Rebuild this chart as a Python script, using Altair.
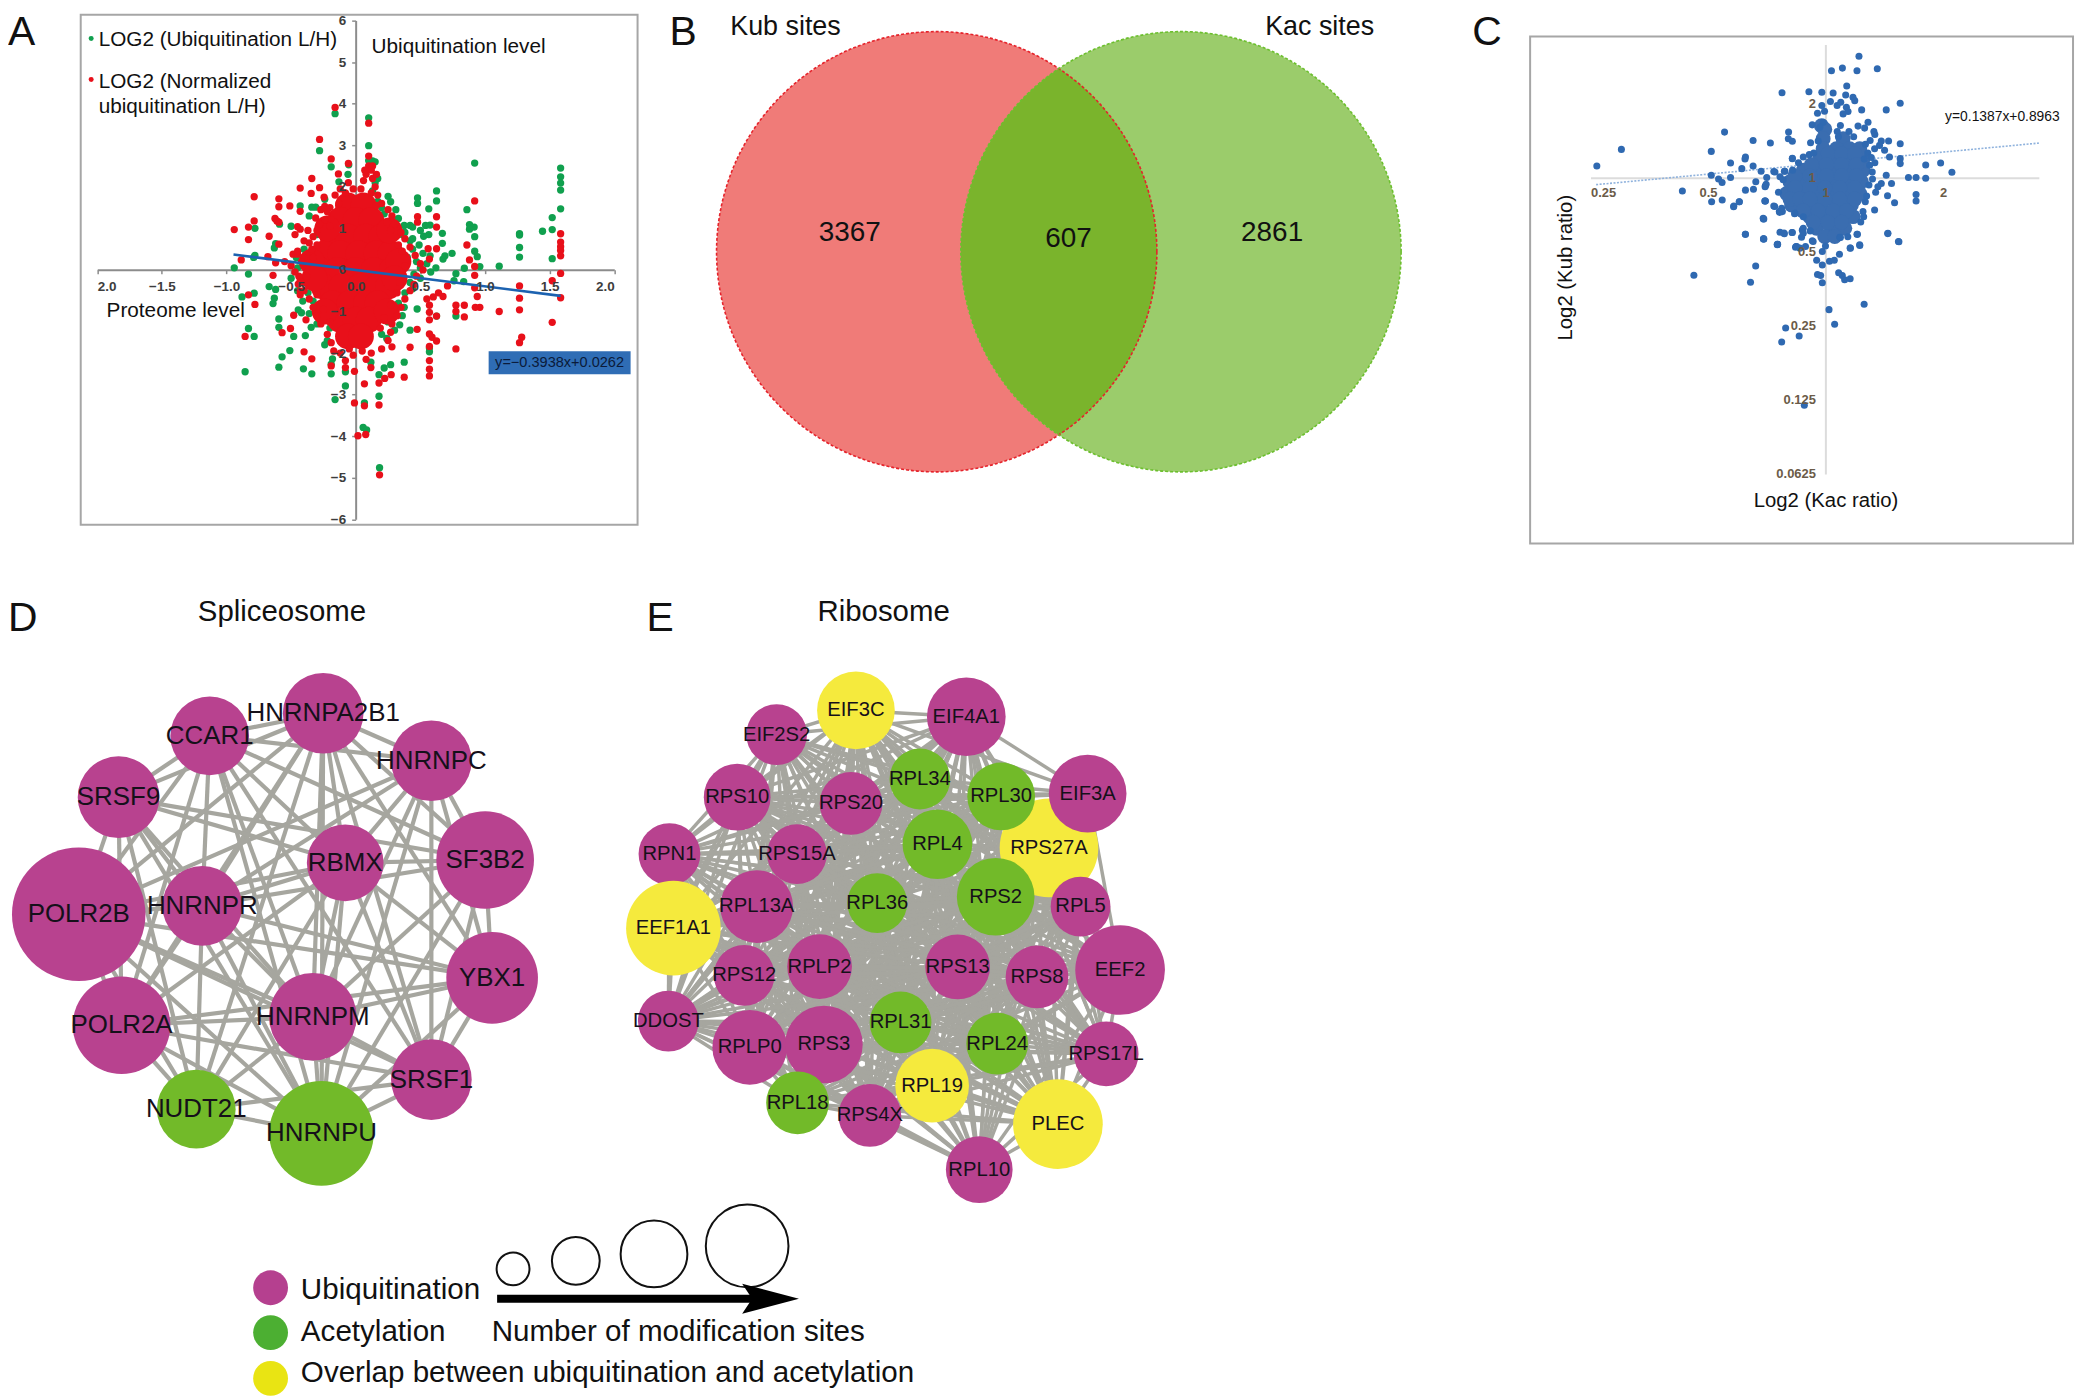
import itertools
import altair as alt
import pandas as pd

# ---------- Panel A values (proteome level, ubiquitination level) ----------
a_green = [(-.16,3.76),(.10,3.66),(-.28,2.87),(.10,2.99),(-.054,2.53),(-.19,2.48),(-.13,2.12),(.10,2.63),(.13,2.62),(.15,2.6),(.15,2.1),(.13,1.9),
 (-.50,1.05),(-.43,1.54),(-.34,1.51),(-.31,1.51),(-.78,1.0),(-.59,1.1),(-.62,.63),(-.63,.53),(-.78,.35),(-.79,.3),(-.94,.05),(-.83,-.1),
 (-.856,-2.45),(-.786,-1.6),(-.83,-1.41),(-.88,-.65),(-.786,-.56),(-.67,-.4),(-.62,-.47),(-.64,-.81),(-.63,-.68),(-.595,-1.18),(-.595,-1.38),
 (-.57,-2.09),(-.595,-2.34),(-.51,-1.94),(-.48,-1.6),(-.405,-2.38),(-.34,-2.5),(-.19,-2.5),(-.08,-2.45),(-.445,-.96),(-.42,-1.03),(-.39,-1.58),
 (-.345,-1.38),(-.28,-1.12),(-.24,-1.8),(-.18,-2.14),(-.19,-2.27),(-.08,-2.79),(-.16,-3.12),(.067,-3.2),(.057,-3.79),(.084,-3.85),(.184,-4.76),
 (.18,-3.04),(.18,-2.52),(.22,-2.36),(.27,-2.28),(.375,-2.22),(.117,-2.22),(.42,-1.45),(.34,-1.32),(.92,2.57),(1.585,2.45),(1.585,2.24),(1.585,2.09),
 (1.585,1.92),(1.585,1.47),(1.52,1.26),(1.445,.93),(1.52,.97),(1.52,.27),(1.267,.87),(1.267,.84),(1.267,.54),(1.267,.31),(1.11,.09),(.96,.08),
 (.92,.45),(.94,.32),(.86,1.45),(.88,1.09),(.916,1.03),(.88,.98),(.92,.8),(.625,1.9),(.625,1.66),(.478,1.73),(.478,1.6),(.565,1.47),(.25,1.77),
 (.27,1.64),(.31,1.45),(.33,1.24),(.375,1.07),(.42,1.07),(.44,1.03),(.54,1.07),(.575,1.08),(.67,.88),(.565,.85),(.525,.81),(.67,.64),(.575,.34),
 (.69,.34),(.745,.4),(.675,.26),(.84,.04),(.775,-.09),(.76,-.26),(.835,-.28),(.775,-1.11),(.625,-1.11),(.475,-.94),(.375,-.9),(.57,-1.88),(.57,-1.97),
 (.49,.6),(.52,.4),(.55,.15),(.58,-.05),(.62,.05),(.5,-.2),(.44,-.45),(.36,-1.1),(.3,-1.45),(.24,-1.65),(.3,1.2),(.38,.9),(.44,.75),(.5,.95),
 (-.4,.5),(-.46,.3),(-.45,.05),(-.5,-.2),(-.45,-.5),(-.41,-.75),(-.36,-1.05),(-.3,-1.3),(-.22,-1.7),(-.36,1.3),(-.24,1.7),(-.06,2.3),(.17,2.2),
 (.4,.3),(.44,.5),(.47,.2),(.42,.7),(.36,.85),(.33,1.0),(.5,.05),(.45,-.1),(.42,-.3),(.38,-.55),(.33,-.8),(.3,-1.0),(.25,-1.25),(.2,-1.55),
 (-.33,-.75),(-.37,-.55),(-.3,-.95),(-.25,-1.15),(-.2,-1.4),(-.3,.85),(-.27,1.05),(.22,1.35),(.2,1.5),(.17,1.65)]
a_red = [(-.16,3.91),(.10,3.53),(-.28,3.14),(.10,2.74),(-.19,2.67),(-.057,2.56),(-.134,2.31),(-.34,2.2),(-.43,1.97),(-.345,1.84),(-.28,1.98),(-.057,2.1),
 (-.786,1.76),(-.595,1.71),(-.595,1.52),(-.51,1.54),(-.43,1.41),(-.245,1.75),(-.24,1.53),(-.786,1.18),(-.83,1.03),(-.94,.97),(-.83,.73),(-.67,.81),
 (-.625,1.24),(-.61,1.18),(-.595,1.15),(-.45,1.04),(-.43,.98),(-.47,.85),(-.595,.62),(-.62,.17),(-.886,.24),(-.68,.32),(-.485,.38),(-.45,.38),
 (-.445,-.34),(-.64,-.13),(-.43,-.26),(-.43,-.51),(-.83,-.6),(-.78,-.83),(-.856,-1.6),(-.57,-1.51),(-.505,-1.41),(-.48,-1.09),(-.385,-1.2),(-.43,-.6),
 (-.4,-1.97),(-.34,-2.14),(-.19,-2.31),(-.08,-2.35),(-.08,-2.18),(-.01,-2.44),(.067,-2.74),(.117,-2.35),(.18,-2.72),(.18,-3.25),(-.01,-3.2),
 (.067,-3.27),(.017,-3.99),(.077,-3.96),(.184,-4.93),(.224,-2.61),(.274,-2.52),(.375,-2.58),(.42,-1.86),(.475,-1.43),(.92,1.66),(1.585,.87),(1.585,.67),
 (1.585,.56),(1.585,.47),(1.585,.34),(1.585,-.085),(1.585,-.67),(1.52,-.26),(1.52,-1.26),(1.267,-.385),(1.267,-.68),(1.267,-.96),(1.284,-1.62),
 (1.267,-1.75),(1.11,-1.0),(.96,-.9),(.925,-.9),(.94,-.64),(.92,-.43),(.92,-.13),(.92,.085),(.86,.6),(.88,.24),(.84,-.85),(.84,-1.13),(.775,-.85),
 (.775,-1.0),(.775,-1.9),(.71,-.385),(.675,-.64),(.625,1.28),(.625,1.03),(.478,1.28),(.478,1.15),(.56,.51),(.625,.51),(.57,.26),(.57,-.85),(.57,-1.02),
 (.57,-1.2),(.625,-1.11),(.57,-1.54),(.59,-1.62),(.625,-1.71),(.57,-1.84),(.57,-2.18),(.57,-2.39),(.57,-2.55),(.6,-.65),(.64,-.55),(.55,-.7),
 (.10,2.5),(.12,2.4),(.08,2.3),(.13,2.2),(.06,2.15),(.15,2.0),(.04,1.95),(-.02,1.95),(-.08,1.85),(-.12,1.95),(-.16,1.8),(-.13,1.6),(-.2,1.5),(-.22,1.4),
 (-.24,1.2),(-.28,1.1),(-.3,.95),(-.33,.8),(-.36,.65),(-.34,.5),(-.4,.3),(-.42,.2),(.17,1.8),(.2,1.6),(.25,1.45),(.28,1.3),(.3,1.1),(.35,.9),(.38,.75),
 (.42,.55),(.46,.35),(.5,.15),(.52,0),(.47,-.15),(.45,-.35),(.42,-.5),(.38,-.7),(.35,-.9),(.32,-1.1),(.28,-1.3),(.27,-1.5),(.25,-1.7),(.28,-1.85),
 (.2,-1.9),(.12,-2.0),(.08,-2.15),(.05,-1.95),(-.02,-2.05),(-.05,-1.9),(-.12,-2.0),(-.17,-1.95),(-.19,-1.75),(-.22,-1.55),(-.27,-1.3),(-.3,-1.1),
 (-.33,-.9),(-.36,-.7),(-.4,-.5),(-.42,-.3),(-.44,-.15),(-.5,.1),(-.55,.2),(-.45,.45),(-.4,.7),(-.37,.95),(-.31,1.25),(-.27,1.45),(.16,2.3),(.13,2.5),(.07,2.4),
 (-.47,-.05),(-.38,.12),(-.33,.3),(-.38,-.15),(.38,.1),(.36,.45),(.33,.6),(.27,.95),(.34,-.3),(.32,-.55),(.27,-.85),(.22,-1.15),(.19,-1.4),(-.2,-1.25),(-.25,-.95),
 (-.3,-.6),(-.3,.6),(-.2,1.05),(.24,1.15),(.12,1.85),(.16,1.55)]
a_red_dense = [(-.06,1.55),(.06,1.55),(-.12,1.2),(0,1.2),(.12,1.2),(-.18,.8),(-.06,.8),(.08,.8),(.2,.8),(-.24,.4),(-.12,.4),(.02,.4),(.16,.4),(.27,.4),
 (-.28,0),(-.14,0),(0,0),(.14,0),(.28,0),(-.25,-.4),(-.11,-.4),(.03,-.4),(.17,-.4),(.25,-.4),(-.18,-.8),(-.05,-.8),(.08,-.8),(.17,-.8),(-.12,-1.2),(0,-1.2),(.1,-1.2),(-.06,-1.6),(.04,-1.6),
 (-.22,1.0),(.26,.95),(-.24,-1.0),(.24,-1.0),(.33,.2),(-.34,.2),(.3,-.2),(-.32,-.2)]
a_trend = [(-.946,.37),(1.585,-.625)]
a_x_ticks = [-2,-1.5,-1,-.5,0,.5,1,1.5,2]
a_y_ticks = [-6,-5,-4,-3,-2,-1,0,1,2,3,4,5,6]

# ---------- Panel C values (log2 Kac ratio, log2 Kub ratio) ----------
c_points = [(-1.946,.157),(-1.737,.38),(-1.218,-.183),(-.972,.353),(-.859,.613),(-.972,.03),(-.91,-.02),(-.88,-.067),(-.969,-.327),(-.879,-.304),
 (-.782,-.394),(-.734,-.327),(-.808,.197),(-.808,0),(-.681,.277),(-.685,.25),(-.712,.12),(-.616,.5),(-.616,.157),(-.681,-.17),(-.613,-.157),(-.548,.085),(-.593,-.058),
 (-.5,0),(-.514,-.125),(-.505,-.09),(-.514,-.318),(-.469,.465),(-.43,.076),(-.35,.085),(-.387,.01),(-.37,1.145),(-.314,.613),(-.316,.523),(-.282,.49),(-.282,.26),
 (-.525,-.56),(-.681,-.765),(-.525,-.828),(-.387,-.738),(-.35,-.76),(-.282,-.743),(-.407,-.9),(-.432,-.39),(-.246,-.93),(-.263,-.488),(-.367,-.46),(-.39,-.47),
 (-1.12,-1.318),(-.638,-1.414),(-.594,-1.194),(-.682,-.767),(-.526,-.83),(-.41,-.906),(-.353,-.748),(-.285,-.743),(-.255,-.94),(-.204,-.805),(-.197,-.71),(-.17,-.93),
 (-.112,-.853),(0,-.925),(-.027,-.997),(-.075,-1.117),(-.027,-1.18),(.034,-1.13),(.075,-1.117),(.119,-1.035),(.122,-.805),(.21,-.95),(.292,-.916),(.272,-.767),
 (.53,-.757),(.625,-.868),(-.068,-1.31),(-.041,-1.323),(-.027,-1.419),(.112,-1.285),(.143,-1.323),(.163,-1.38),(.21,-1.366),(.329,-1.711),(.03,-1.783),(.078,-1.98),
 (-.339,-2.03),(-.224,-2.138),(-.373,-2.22),(-.18,-3.073),(-.53,-.551),(-.516,-.316),(-.78,-.384),(-.733,-.326),
 (.285,1.638),(.144,1.477),(.051,1.441),(.268,1.441),(.441,1.468),(.181,1.235),(-.141,1.159),(-.031,1.15),(.065,1.14),(.172,1.114),(.234,1.083),(.249,1.038),
 (.042,1.025),(-.031,.971),(.13,1.016),(.099,.971),(.178,.949),(.192,.89),(.636,1.002),(.517,.913),(.308,.913),(-.068,.868),(-.008,.895),(.15,.859),(-.113,.711),
 (-.02,.747),(-.048,.68),(.362,.747),(.333,.667),(.277,.694),(.412,.622),(.127,.702),(-.127,.47),(-.062,.492),(.475,.492),(.537,.492),(.636,.456),(.46,.434),
 (.418,.389),(.503,.367),(.545,.277),(.636,.255),(.636,.188),(.376,.166),(.398,.076),(-.282,.255),(-.189,.277),(-.138,.309),(.517,.031),(.475,-.08),(.446,-.125),
 (.427,-.2),(.562,-.08),(.528,-.246),(.706,0),(.771,0),(.853,-.01),(.853,.17),(.98,.197),(1.076,.072),(.771,-.228),(.771,-.318),(.588,-.34),(.418,-.438),(.339,-.327),
 (.319,-.46),(.325,-.528),(.268,-.765),(.531,-.752),(.621,-.864),(.291,-.908),(.212,-.953),(.127,-.81),(-.528,-.559),(-.528,-.828),(-.41,-.9),(-.511,-.318),
 (-.511,-.112),(-.44,.08),(-.345,.085),(-.44,-.385),(-.393,-.46),(-.373,-.416),(-.26,-.483),(-.189,-.528),(-.189,-.685),(-.189,-.752),(-.25,-.93),(-.218,-.953),
 (-.105,-.864),(.42,.58),(.38,.5),(.34,.45),(.2,.62),(.1,.62),(.33,.25),(.42,.2),(.11,.55),(.24,.55),(.36,.33),(.39,.27),(-.1,.33),(-.23,.2),(-.28,.1),(-.36,-.03),
 (-.4,-.2),(.37,-.1),(.4,-.02),(.35,-.25),(.3,-.6),(.19,-.8),(-.13,-.72)]
c_dense = [(-.034,.70),(-.006,.65),(-.02,.523),(.15,.523),(-.02,.389),(.093,.389),(.206,.389),(.291,.389),(-.048,.255),(.065,.255),(.192,.255),(.319,.255),
 (-.189,.098),(-.048,.098),(.079,.098),(.206,.098),(.319,.098),(-.302,-.058),(-.189,-.058),(-.062,-.058),(.065,-.058),(.192,-.058),(.305,-.058),
 (-.33,-.215),(-.203,-.215),(-.076,-.215),(.051,-.215),(.178,-.215),(.291,-.215),(-.288,-.371),(-.161,-.371),(-.034,-.371),(.093,-.371),(.22,-.371),
 (-.133,-.528),(-.006,-.528),(.121,-.528),(.234,-.528),(-.076,-.685),(.051,-.685),(.164,-.685),(-.006,-.796),(.079,-.796),
 (.023,.322),(.136,.322),(.249,.322),(-.119,.174),(.009,.174),(.136,.174),(.263,.174),(-.26,.022),(-.133,.022),(.009,.022),(.136,.022),(.263,.022),
 (-.26,-.139),(-.133,-.139),(-.006,-.139),(.121,-.139),(.249,-.139),(-.302,-.291),(-.218,-.291),(-.133,-.291),(-.006,-.291),(.121,-.291),(.249,-.291),
 (-.19,-.452),(-.062,-.452),(.065,-.452),(.178,-.452),(-.105,-.604),(.023,-.604),(.136,-.604)]
c_trend = [(-1.952,-.096),(1.816,.465)]
c_x_ticks = [-2,-1,0,1]
c_y_ticks = [-4,-3,-2,-1,0,1]

# ---------- Panel B values ----------
venn_labels = ["3367","607","2861"]

# ---------- Panel D network ----------
d_names = ["HNRNPA2B1","CCAR1","HNRNPC","SRSF9","RBMX","SF3B2","POLR2B","HNRNPR","YBX1","POLR2A","HNRNPM","SRSF1","NUDT21","HNRNPU"]
d_kind  = ["ub","ub","ub","ub","ub","ub","ub","ub","ub","ub","ub","ub","ac","ac"]
d_sites = [81,79,81,82,77,98,134,80,92,98,88,81,79,105]
d_x = [324.4,210.5,433,119,346.5,487,79,203,494,122,314,433,197,322.7]
d_y = [713.3,736,761,797.5,863.4,860.6,915,906.6,979,1026.5,1018,1081,1110.7,1135]
d_missing = [("CCAR1","NUDT21"),("HNRNPC","NUDT21"),("SRSF9","HNRNPC"),("SF3B2","POLR2A"),("YBX1","NUDT21"),("SRSF1","SRSF9"),("POLR2B","SF3B2"),
 ("SF3B2","NUDT21"),("HNRNPR","SRSF1"),("CCAR1","YBX1"),("SRSF9","YBX1"),("POLR2A","HNRNPC")]

# ---------- Panel E network ----------
e_names = ["RPS27A","EIF3C","EIF4A1","EIF2S2","RPS10","RPS20","RPL34","RPL30","EIF3A","RPN1","RPS15A","RPL4","RPL36","RPS2","RPL5","RPL13A","EEF1A1",
 "RPS12","RPLP2","RPS13","RPS8","EEF2","DDOST","RPLP0","RPS3","RPL31","RPL24","RPS17L","RPL18","RPL19","RPS4X","PLEC","RPL10"]
e_kind = ["ov","ov","ub","ub","ub","ub","ac","ac","ub","ub","ub","ac","ac","ac","ub","ub","ov","ub","ub","ub","ub","ub","ub","ub","ub","ac","ac","ub","ac","ov","ub","ov","ub"]
e_sites = [99,78,79,61,67,63,61,68,78,62,60,70,60,78,60,73,95,61,65,65,63,90,61,75,78,62,62,65,63,74,63,90,67]
e_x = [1053,859.2,970,779.6,740,854.3,923.4,1005,1091.8,672,800,941,880.6,999.5,1084.7,759.6,676,747,822.7,961.3,1041,1124.4,670.9,752.6,827,904,1001,1110.4,800.6,935.7,873.2,1062,983]
e_y = [848.4,710.5,716.8,734.7,797.5,803.8,779.3,796.8,794,854.7,854.7,844.8,903.8,897.5,907.3,907.3,929,976.4,967.6,968,978,971,1022.3,1048.6,1045.8,1023.7,1045,1055.3,1104.4,1087.2,1117,1125.8,1171.4]
e_missing = [("RPN1","EIF3A"),("RPN1","EEF2"),("RPN1","PLEC"),("RPN1","RPS17L"),("RPN1","RPL10"),("DDOST","EIF3A"),("DDOST","EIF4A1"),("DDOST","EEF2"),
 ("DDOST","RPS17L"),("DDOST","PLEC"),("EIF2S2","RPL10"),("EIF2S2","PLEC"),("EIF2S2","RPS17L"),("EIF2S2","EEF2"),("EIF2S2","EIF3A"),("RPL10","EIF3A"),
 ("RPL10","EIF3C"),("RPL10","EIF4A1"),("RPL10","RPS10"),("RPL10","RPL18"),("RPS17L","EIF3A"),("EEF1A1","RPL18"),("EEF1A1","RPS4X"),("RPS10","RPL18"),("RPS10","RPS4X")]

# ---------- Size legend ----------
size_key_sites = [33,48,67,83]
size_key_x = [515,578,656.5,750]
size_key_y = [1271,1263,1256,1248]

# ---------- Colours ----------
PURPLE, GREEN, YELLOW = "#B8428F", "#72BA29", "#F5EA3D"
KIND = alt.Scale(domain=["ub","ac","ov"], range=[PURPLE, GREEN, YELLOW])
FONT = "Liberation Sans"

# ---------- Page coordinate scales (picture pixels; the page margin is 8) ----------
W, H, M = 2080, 1392, 8
PX = alt.Scale(domain=[M, M + W], range=[0, W])
PY = alt.Scale(domain=[M, M + H], range=[0, H])
def pxy(x="x", y="y"):
    return dict(x=alt.X(f"{x}:Q", scale=PX, axis=None), y=alt.Y(f"{y}:Q", scale=PY, axis=None))

def note(text, x, y, size, align="left", color="#111111", angle=0, weight="normal"):
    return alt.Chart(pd.DataFrame({"x":[x],"y":[y],"t":[text]})).mark_text(
        font=FONT, fontSize=size, align=align, baseline="middle", color=color, angle=angle, fontWeight=weight
    ).encode(text="t:N", **pxy())

def box(x0, x1, y0, y1, **mark):
    return alt.Chart(pd.DataFrame({"x":[x0],"x2":[x1],"y":[y0],"y2":[y1]})).mark_rect(**mark).encode(
        x2="x2:Q", y2="y2:Q", **pxy())

def disc(x, y, d, **mark):
    return alt.Chart(pd.DataFrame({"x":[x],"y":[y]})).mark_point(size=d*d, **mark).encode(**pxy())

def frame(rows): return pd.DataFrame(rows, columns=["x","y"])

layers = []

# ---------- Panel A ----------
AX = alt.Scale(domain=[-2,2], range=[97.6-M, 616.6-M])
AY = alt.Scale(domain=[-6,6], range=[518.6-M, 17.9-M])
def a_enc(kind=None):
    line = dict(grid=False, title=None, domainColor="#8c8c8c", domainWidth=2, tickColor="#8c8c8c", tickSize=4, tickWidth=1.5, labels=False, zindex=0)
    text = dict(grid=False, title=None, domain=False, ticks=False, labelFont=FONT, labelFontSize=13.5, labelFontWeight="bold", labelColor="#3d3d3d",
                zindex=1, labelOverlap=False)
    xo = dict(orient="bottom", offset=-(H-(268-M)), values=a_x_ticks)
    yo = dict(orient="left", offset=-(357-M), values=a_y_ticks)
    if kind == "line":
        ax, ay = alt.Axis(**xo, **line), alt.Axis(**yo, **line)
    elif kind == "text":
        ax = alt.Axis(**xo, **text, labelPadding=10, labelExpr="format(abs(datum.value), '.1f') == '2.0' ? '2.0' : format(datum.value, '.1f')")
        ay = alt.Axis(**yo, **text, labelPadding=10, format="d")
    else:
        ax, ay = None, None
    return dict(x=alt.X("x:Q", scale=AX, axis=ax), y=alt.Y("y:Q", scale=AY, axis=ay))

layers.append(box(81, 640, 12, 524, fillOpacity=0, stroke="#a6a6a6", strokeWidth=2))
layers.append(alt.Chart(frame(a_green)).mark_point(filled=True, opacity=1, size=54, color="#10A04E").encode(**a_enc("line")))
layers.append(alt.Chart(frame(a_red_dense)).mark_point(filled=True, opacity=1, size=676, color="#E8101A").encode(**a_enc()))
layers.append(alt.Chart(frame(a_red)).mark_point(filled=True, opacity=1, size=54, color="#E8101A").encode(**a_enc()))
layers.append(alt.Chart(frame(a_trend)).mark_line(color="#1C62B0", strokeWidth=2.6).encode(**a_enc()))
layers.append(alt.Chart(frame(a_trend)).mark_point(opacity=0, size=1).encode(**a_enc("text")))
layers.append(disc(91.5, 36, 5, filled=True, opacity=1, color="#10A04E"))
layers.append(disc(91.5, 77, 5, filled=True, opacity=1, color="#E8101A"))
layers.append(note("LOG2 (Ubiquitination L/H)", 99, 37.5, 20.8))
layers.append(note("LOG2 (Normalized", 99, 80, 20.8))
layers.append(note("ubiquitination L/H)", 99, 105, 20.8))
layers.append(note("Ubiquitination level", 373, 44, 20.8))
layers.append(note("Proteome level", 107, 310, 20.8))
layers.append(box(490.5, 633, 350, 373, fill="#2F6DB5"))
layers.append(note("y=\u22120.3938x+0.0262", 497, 362, 14.6, color="#0B1B3A"))

# ---------- Panel B ----------
LX, RX, VY, VR = 940.3, 1185.5, 250, 221
half = ((VR**2) - ((RX-LX)/2)**2) ** 0.5
lens = f"M0,{-half:.1f} A{VR},{VR} 0 0 0 0,{half:.1f} A{VR},{VR} 0 0 0 0,{-half:.1f} Z"
layers.append(disc(LX, VY, 2*VR, filled=True, opacity=1, color="#F07B78"))
layers.append(disc(RX, VY, 2*VR, filled=True, opacity=1, color="#9BCC6B"))
layers.append(alt.Chart(pd.DataFrame({"x":[(LX+RX)/2],"y":[VY]})).mark_point(filled=True, opacity=1, size=4, shape=lens, color="#7AB42C").encode(**pxy()))
layers.append(disc(LX, VY, 2*VR, filled=False, opacity=1, color="#E5232B", strokeWidth=1.6, strokeDash=[3,2]))
layers.append(disc(RX, VY, 2*VR, filled=False, opacity=1, color="#6CBF2E", strokeWidth=1.6, strokeDash=[3,2]))
layers.append(note("Kub sites", 733, 24, 27))
layers.append(note("Kac sites", 1270, 24, 27))
layers.append(note(venn_labels[0], 853, 231, 28, align="center"))
layers.append(note(venn_labels[1], 1072.5, 237, 28, align="center"))
layers.append(note(venn_labels[2], 1277, 231, 28, align="center"))

# ---------- Panel C ----------
CX = alt.Scale(domain=[-2,1.816], range=[1596.6-M, 2046.7-M])
CY = alt.Scale(domain=[-4,1.795], range=[473-M, 42-M])
CL = "toString(pow(2, datum.value))"
def c_enc(kind=None):
    xo = dict(orient="bottom", offset=-(H-(175.7-M)), values=c_x_ticks)
    yo = dict(orient="left", offset=-(1832.4-M), values=c_y_ticks)
    line = dict(grid=False, title=None, domainColor="#dcdcdc", domainWidth=2, ticks=False, labels=False, zindex=0)
    text = dict(grid=False, title=None, domain=False, ticks=False, labelFont=FONT, labelFontSize=13, labelFontWeight="bold",
                labelColor="#6b5b48", labelExpr=CL, zindex=1, labelOverlap=False)
    if kind == "line":
        ax, ay = alt.Axis(**xo, **line), alt.Axis(**yo, **line)
    elif kind == "text":
        ax, ay = alt.Axis(**xo, **text, labelPadding=9), alt.Axis(**yo, **text, labelPadding=10)
    else:
        ax, ay = None, None
    return dict(x=alt.X("x:Q", scale=CX, axis=ax), y=alt.Y("y:Q", scale=CY, axis=ay))
layers.append(box(1536, 2081, 34, 543, fillOpacity=0, stroke="#a6a6a6", strokeWidth=2))
layers.append(alt.Chart(frame(c_trend)).mark_line(color="#8FB2DD", strokeWidth=1.6, strokeDash=[2,1.5]).encode(**c_enc("line")))
layers.append(alt.Chart(frame(c_dense)).mark_point(filled=True, opacity=1, size=225, color="#3A6DB0").encode(**c_enc()))
layers.append(alt.Chart(frame(c_points)).mark_point(filled=True, opacity=1, size=50, color="#2F69B1").encode(**c_enc()))
layers.append(alt.Chart(frame(c_trend)).mark_point(opacity=0, size=1).encode(**c_enc("text")))
layers.append(note("y=0.1387x+0.8963", 1952.6, 115, 13.9))
layers.append(note("Log2 (Kub ratio)", 1572, 266, 20.4, align="center", angle=270))
layers.append(note("Log2 (Kac ratio)", 1833, 500, 20.4, align="center"))

# ---------- Panel letters and titles ----------
for letter, x, y in [("A",8,30),("B",672,30),("C",1478,30),("D",8,619),("E",649,619)]:
    layers.append(note(letter, x, y, 41))
layers.append(note("Spliceosome", 283, 612, 29.5, align="center"))
layers.append(note("Ribosome", 887, 612, 29.5, align="center"))

# ---------- Networks ----------
SITES = alt.Scale(type="pow", exponent=2, domain=[0,134], range=[0,134**2])
def network(names, kinds, sites, xs, ys, missing, edge_w, font_size):
    nodes = pd.DataFrame({"name":names,"kind":kinds,"sites":sites,"x":xs,"y":ys})
    where = {n:(x,y) for n,x,y in zip(names,xs,ys)}
    gone = {frozenset(p) for p in missing}
    edges = pd.DataFrame([{"x":where[a][0],"y":where[a][1],"x2":where[b][0],"y2":where[b][1]}
                          for a,b in itertools.combinations(names,2) if frozenset((a,b)) not in gone])
    return [
        alt.Chart(edges).mark_rule(color="#A6A69F", strokeWidth=edge_w).encode(x2="x2:Q", y2="y2:Q", **pxy()),
        alt.Chart(nodes).mark_point(filled=True, opacity=1).encode(
            color=alt.Color("kind:N", scale=KIND, legend=None),
            size=alt.Size("sites:Q", scale=SITES, legend=None), order=alt.Order("idx:Q"), **pxy()
        ).transform_window(idx="row_number()"),
        alt.Chart(nodes).mark_text(font=FONT, fontSize=font_size, color="#15101A", baseline="middle", align="center").encode(text="name:N", **pxy()),
    ]
layers += network(d_names, d_kind, d_sites, d_x, d_y, d_missing, 4.2, 26)
layers += network(e_names, e_kind, e_sites, e_x, e_y, e_missing, 3.5, 20.3)

# ---------- Bottom legend ----------
layers.append(disc(271.6, 1290, 35, filled=True, opacity=1, color="#B5408F"))
layers.append(disc(271.6, 1335, 35, filled=True, opacity=1, color="#4CAF32"))
layers.append(disc(271.6, 1381, 35, filled=True, opacity=1, color="#E9E413"))
layers.append(note("Ubiquitination", 302, 1292.5, 29.7))
layers.append(note("Acetylation", 302, 1334, 29.7))
layers.append(note("Overlap between ubiquitination and acetylation", 302, 1376, 29.7))
layers.append(note("Number of modification sites", 493.5, 1334, 29.7))
layers.append(alt.Chart(pd.DataFrame({"sites":size_key_sites,"x":size_key_x,"y":size_key_y})).mark_point(filled=False, opacity=1, color="#111111", strokeWidth=2).encode(
    size=alt.Size("sites:Q", scale=SITES, legend=None), **pxy()))
layers.append(box(499, 760, 1297, 1305, fill="#000000"))
layers.append(alt.Chart(pd.DataFrame({"x":[775],"y":[1301]})).mark_point(filled=True, opacity=1, size=4, color="#000000",
    shape="M27,0 L-30,-15 L-20,0 L-30,15 Z").encode(**pxy()))

chart = alt.layer(*layers).resolve_scale(x="independent", y="independent", color="independent", size="independent").properties(
    width=W, height=H, padding=0, autosize=alt.AutoSizeParams(type="none"), background="white"
).configure_view(stroke=None)
chart.save("out.html", embed_options={"renderer": "svg", "actions": False})
